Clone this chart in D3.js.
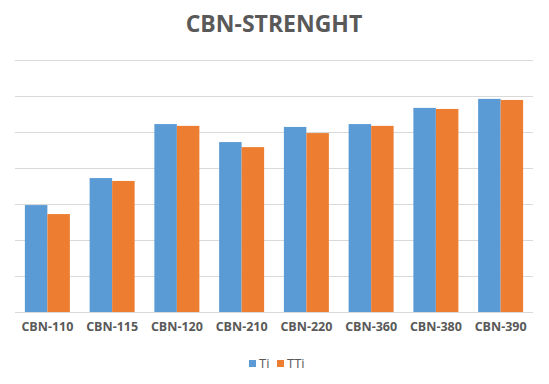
<!DOCTYPE html>
<html>
<head>
<meta charset="utf-8">
<script src="https://cdn.jsdelivr.net/npm/d3@7"></script>
<style>
  html, body { margin: 0; padding: 0; background: #fff; }
</style>
</head>
<body>
<div id="chart"></div>
<script>
const categories = ["CBN-110", "CBN-115", "CBN-120", "CBN-210", "CBN-220", "CBN-360", "CBN-380", "CBN-390"];
const seriesNames = ["Ti", "TTi"];
const tiValues = [2.97, 3.72, 5.22, 4.72, 5.14, 5.22, 5.67, 5.92];
const ttiValues = [2.72, 3.64, 5.17, 4.58, 4.97, 5.17, 5.64, 5.89];
const gridTicks = [0, 1, 2, 3, 4, 5, 6, 7];

function chart() {
    const width = 549,
        height = 384;
    const margin = {top: 60, right: 16, bottom: 72, left: 15};
    const colors = {Ti: "#5b9bd5", TTi: "#ed7d31"};

    const svg = d3.select("#chart").append("svg")
        .attr("width", width)
        .attr("height", height)
        .style("font-family", "'Open Sans', sans-serif");

    const x = d3.scaleBand()
        .domain(categories)
        .range([margin.left, width - margin.right])
        .paddingInner(0.305)
        .paddingOuter(0.1525);

    const xSub = d3.scaleBand()
        .domain(seriesNames)
        .range([0, x.bandwidth()]);

    const y = d3.scaleLinear()
        .domain([0, 7])
        .range([height - margin.bottom, margin.top]);

    // gridlines
    svg.append("g")
        .selectAll("line").data(gridTicks)
        .join("line")
        .attr("x1", margin.left)
        .attr("x2", width - margin.right)
        .attr("y1", d => Math.round(y(d)) + 0.5)
        .attr("y2", d => Math.round(y(d)) + 0.5)
        .attr("stroke", "#d9d9d9")
        .attr("stroke-width", 1);

    const rows = categories.map((c, i) => ({cat: c, Ti: tiValues[i], TTi: ttiValues[i]}));

    svg.append("g")
        .selectAll("g").data(rows)
        .join("g")
        .attr("transform", d => `translate(${x(d.cat)},0)`)
        .selectAll("rect")
        .data(d => seriesNames.map(k => ({key: k, value: d[k]})))
        .join("rect")
        .attr("x", d => xSub(d.key))
        .attr("width", xSub.bandwidth())
        .attr("y", d => y(d.value))
        .attr("height", d => y(0) - y(d.value))
        .attr("fill", d => colors[d.key]);

    // x axis labels
    const xAxis = svg.append("g")
        .attr("transform", `translate(0,${y(0)})`)
        .call(d3.axisBottom(x).tickSize(0).tickPadding(10));
    xAxis.select(".domain").remove();
    xAxis.selectAll("text")
        .attr("fill", "#595959")
        .style("font-size", "12.5px")
        .style("font-weight", "bold")
        .style("font-family", "'Open Sans', sans-serif");

    // title
    svg.append("text")
        .attr("x", 274)
        .attr("y", 32)
        .attr("text-anchor", "middle")
        .attr("fill", "#595959")
        .style("font-size", "23px")
        .style("font-weight", "bold")
        .text("CBN-STRENGHT");

    // legend
    const legend = svg.append("g")
        .attr("transform", "translate(249,360)");
    const item = legend.selectAll("g").data(seriesNames)
        .join("g")
        .attr("transform", (d, i) => `translate(${i * 28},0)`);
    item.append("rect")
        .attr("width", 7)
        .attr("height", 7)
        .attr("fill", d => colors[d]);
    item.append("text")
        .attr("x", 10)
        .attr("y", 7.5)
        .attr("fill", "#595959")
        .style("font-size", "13px")
        .text(d => d);
}

window.onload = function() {
    chart();
};
</script>
</body>
</html>
